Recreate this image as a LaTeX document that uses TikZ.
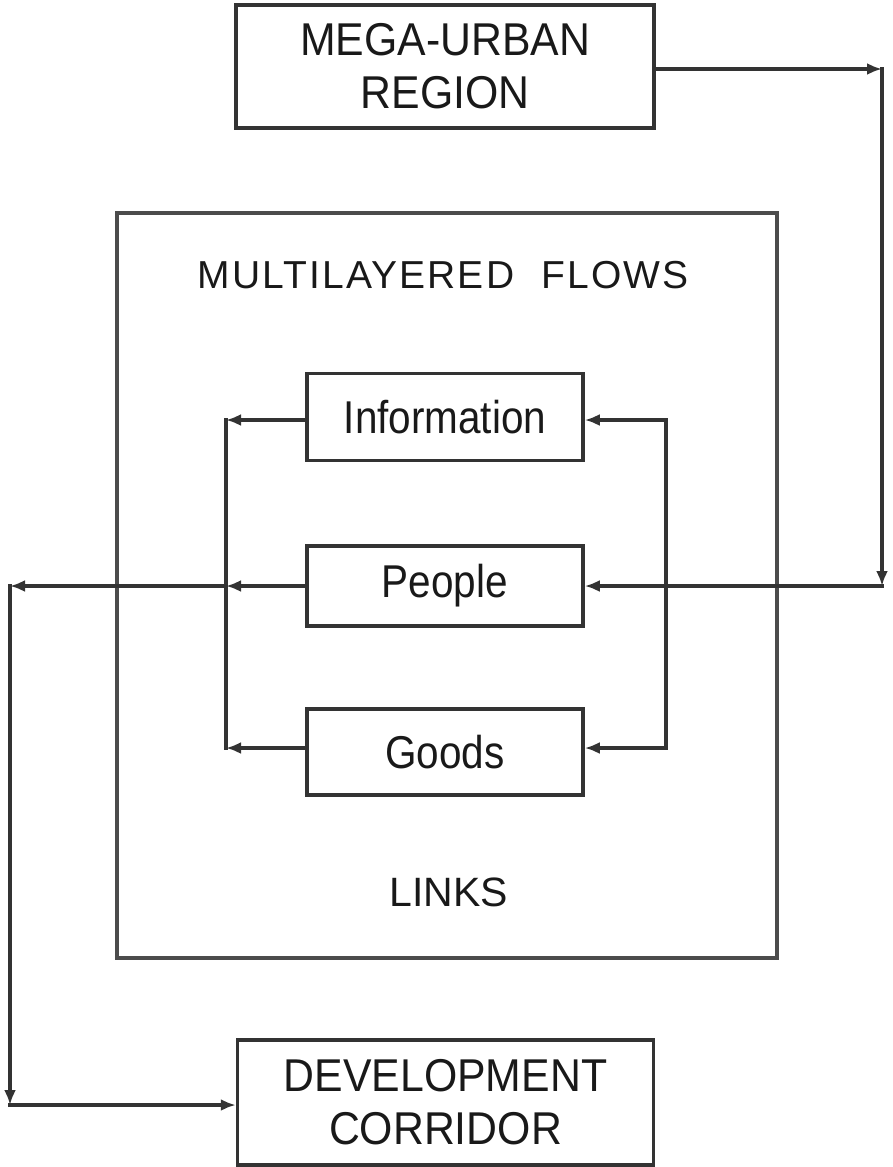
\documentclass[tikz,border=0pt]{standalone}
\usepackage{fontspec}
\setmainfont{Liberation Sans}
\newfontfamily\boxfont[FakeStretch=0.93]{Liberation Sans}
\newfontfamily\flowfont[LetterSpace=5.5]{Liberation Sans}
\newfontfamily\labelfont[FakeStretch=0.88]{Liberation Sans}
\usetikzlibrary{arrows.meta}

\begin{document}
\begin{tikzpicture}[x=1pt,y=-1pt,
  line/.style={draw=black!80, line width=3.5pt, line cap=rect},
  flow/.style={line, -{Latex[length=15pt,width=12pt]}},
  titlebox/.style={draw=black!80, line width=3.5pt, rectangle, inner sep=0pt,
    align=center, text=black!90, font=\boxfont\fontsize{46}{53}\selectfont},
  flowbox/.style={draw=black!80, line width=3.5pt, rectangle, inner sep=0pt,
    minimum width=276pt, text=black!90, font=\labelfont\fontsize{46}{53}\selectfont},
  frame/.style={draw=black!70, line width=3.5pt, rectangle, inner sep=0pt},
  caption/.style={anchor=base, inner sep=0pt, text=black!90}
]
\useasboundingbox (0,0) rectangle (893,1167);

% outer blocks
\node[titlebox, minimum width=418pt, minimum height=123pt] (mega) at (445,66.5) {MEGA-URBAN\\REGION};
\node[titlebox, minimum width=416pt, minimum height=125pt] (dev) at (445.5,1102.5) {DEVELOPMENT\\CORRIDOR};

% links frame and its captions
\node[frame, minimum width=660pt, minimum height=745pt] (links) at (447,585.5) {};
\node[caption, font=\flowfont\fontsize{39}{44}\selectfont] (flowtitle) at (443,288) {MULTILAYERED\hspace{27pt}FLOWS};
\node[caption, font=\fontsize{41}{48}\selectfont] (linkstitle) at (449,906) {LINKS};

% flow layers
\node[flowbox, minimum height=87pt] (info) at (445,417) {Information};
\node[flowbox, minimum height=80pt] (people) at (445,586) {People};
\node[flowbox, minimum height=86pt] (goods) at (445,752) {Goods};

% junction points
\coordinate (tr) at (882,69);
\coordinate (br) at (882,586);
\coordinate (ri) at (666,420);
\coordinate (rg) at (666,748);
\coordinate (li) at (226,420);
\coordinate (lp) at (226,586);
\coordinate (lg) at (226,748);
\coordinate (tl) at (10,586);
\coordinate (bl) at (10,1105);

% region feeding the people layer
\draw[flow] (mega.east |- tr) -- (tr);
\draw[flow] (tr) -- (br);
\draw[flow] (br) -- (people.east);

% right distribution bus
\draw[line] (ri) -- (rg);
\draw[flow] (ri) -- (info.east |- ri);
\draw[flow] (rg) -- (goods.east |- rg);

% left collection bus
\draw[line] (li) -- (lg);
\draw[flow] (info.west |- li) -- (li);
\draw[flow] (goods.west |- lg) -- (lg);
\draw[flow] (people.west) -- (lp);

% people layer out to the corridor
\draw[flow] (lp) -- (tl);
\draw[flow] (tl) -- (bl);
\draw[flow] (bl) -- (dev.west |- bl);
\end{tikzpicture}
\end{document}
